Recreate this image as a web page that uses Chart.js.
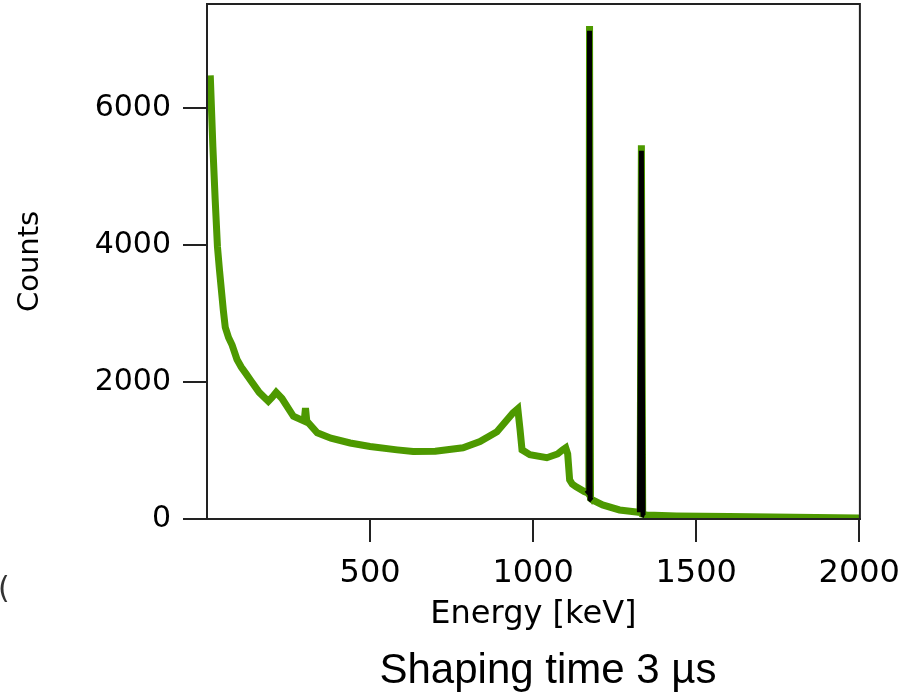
<!DOCTYPE html>
<html>
<head>
<meta charset="utf-8">
<script src="https://cdn.jsdelivr.net/npm/chart.js@4"></script>
<style>
  html, body { margin: 0; padding: 0; background: #fff; }
  #wrap { position: relative; width: 912px; height: 694px; overflow: hidden; }
  #chart { position: absolute; left: 0; top: -26px; }
  .caption {
    position: absolute; left: 0; width: 1096px; top: 645px;
    text-align: center; font-family: "Liberation Sans", Arial, sans-serif;
    font-size: 42px; color: #000;
  }
  .stray { position: absolute; left: -2px; top: 570px; font-family: "DejaVu Sans"; font-size: 30px; color: #333; }
</style>
</head>
<body>
<div id="wrap">
  <canvas id="chart" width="912" height="720"></canvas>
  <div class="stray">(</div>
  <div class="caption">Shaping time 3 µs</div>
</div>
<script>
// Espectro (energía en keV, cuentas)
const energias = [10, 18, 25, 32, 38, 44, 50, 56, 66, 77, 92, 105, 120, 133, 160, 188, 200, 212, 230, 265, 298, 302, 306, 338, 380, 439, 500, 583, 632, 700, 785, 837, 889, 938, 953, 960, 966, 990, 1042, 1075, 1091, 1100, 1106, 1112, 1120, 1132, 1157, 1168, 1171, 1173, 1176, 1182, 1213, 1265, 1317, 1328, 1332, 1336, 1348, 1440, 1600, 1800, 2000];
const cuentas = [6480, 5440, 4670, 3980, 3650, 3350, 3050, 2800, 2650, 2540, 2330, 2220, 2120, 2030, 1850, 1720, 1780, 1850, 1760, 1500, 1430, 1620, 1430, 1260, 1180, 1110, 1060, 1010, 985, 990, 1040, 1130, 1275, 1550, 1610, 1300, 1010, 940, 895, 950, 1010, 1040, 950, 570, 510, 470, 400, 380, 360, 7200, 300, 278, 205, 132, 102, 95, 5460, 70, 58, 45, 35, 25, 15];

// Picos (trazo negro)
const picosEnergia = [1164, 1171, 1173, 1175, 1180, null, 1326, 1332, 1337, 1342];
const picosCuentas = [420, 380, 7130, 290, 270, null, 98, 5380, 60, 50];

const ticksX = [500, 1000, 1500, 2000];
const ticksY = [0, 2000, 4000, 6000];

const aPuntos = (xs, ys) => xs.map((x, i) => (x === null ? { x: NaN, y: null } : { x: x, y: ys[i] }));

// marco del área del gráfico
const marco = {
  id: 'marco',
  afterDatasetsDraw(chart) {
    const { ctx, chartArea: a } = chart;
    ctx.save();
    ctx.strokeStyle = '#222';
    ctx.lineWidth = 2;
    ctx.strokeRect(a.left, a.top, a.right - a.left, a.bottom - a.top);
    ctx.restore();
  }
};

new Chart(document.getElementById('chart'), {
  type: 'line',
  data: {
    datasets: [
      {
        label: 'Picos',
        data: aPuntos(picosEnergia, picosCuentas),
        borderColor: '#000',
        borderWidth: 5,
        pointRadius: 0,
        tension: 0,
        spanGaps: false,
        order: 0
      },
      {
        label: 'Espectro',
        data: aPuntos(energias, cuentas),
        borderColor: '#4d9900',
        borderWidth: 7,
        pointRadius: 0,
        tension: 0,
        order: 1
      }
    ]
  },
  plugins: [marco],
  options: {
    responsive: false,
    animation: false,
    layout: { padding: { top: 5, right: 44, bottom: 54, left: 0 } },
    plugins: { legend: { display: false }, tooltip: { enabled: false } },
    scales: {
      x: {
        type: 'linear',
        min: 0,
        max: 2002,
        afterBuildTicks: s => { s.ticks = ticksX.map(v => ({ value: v })); },
        afterFit: s => { s.height = 121; },
        grid: { drawOnChartArea: false, drawTicks: true, tickLength: 23, color: '#222', lineWidth: 2 },
        border: { color: '#222', width: 2 },
        ticks: { color: '#000', padding: 12, maxRotation: 0, callback: v => String(v), font: { family: 'DejaVu Sans', size: 32 } },
        title: { display: true, text: 'Energy [keV]', color: '#000', padding: { top: 0, bottom: 6 }, font: { family: 'DejaVu Sans', size: 32 } }
      },
      y: {
        min: 0,
        max: 7522,
        afterBuildTicks: s => { s.ticks = ticksY.map(v => ({ value: v })); },
        afterFit: s => { s.width = 207; },
        grid: { drawOnChartArea: false, drawTicks: true, tickLength: 24, color: '#222', lineWidth: 2 },
        border: { color: '#222', width: 2 },
        ticks: { color: '#000', padding: 12, callback: v => String(v), font: { family: 'DejaVu Sans', size: 30 } },
        title: { display: true, text: 'Counts', color: '#000', padding: { top: 13, bottom: 0 }, font: { family: 'DejaVu Sans', size: 29 } }
      }
    }
  }
});
</script>
</body>
</html>
